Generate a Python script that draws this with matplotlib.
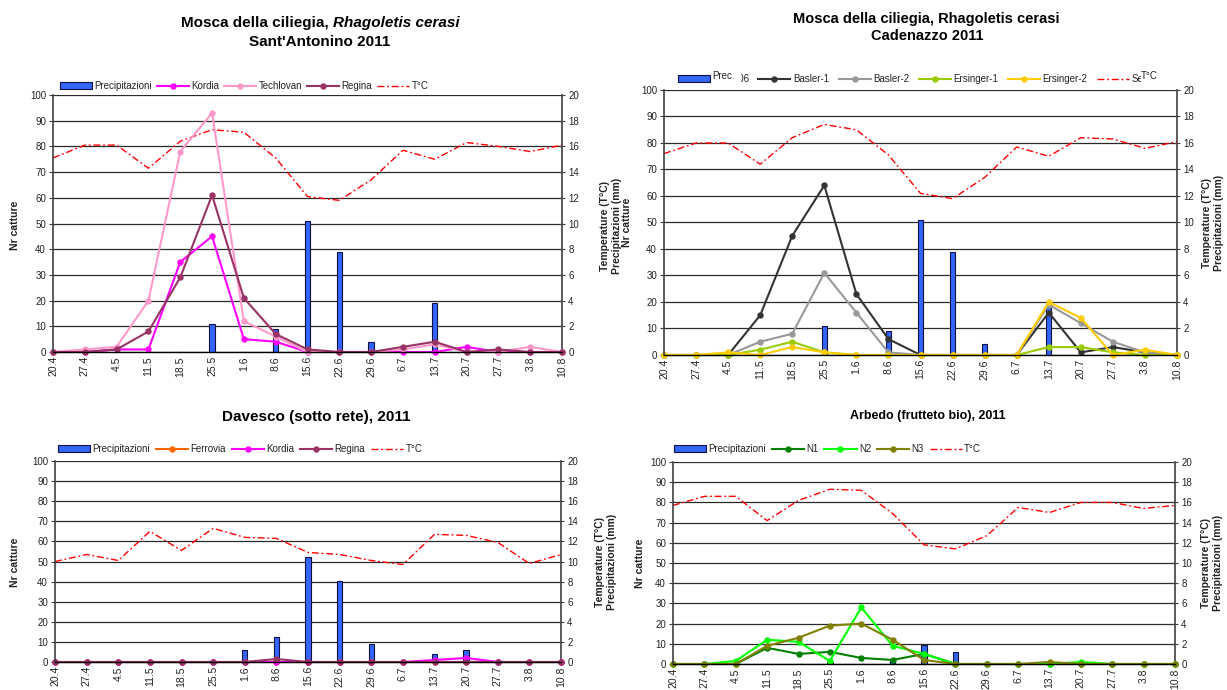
import matplotlib
matplotlib.use("Agg")
import matplotlib.pyplot as plt
from matplotlib.patches import Rectangle

plt.rcParams['font.family'] = ['Liberation Sans', 'DejaVu Sans']

W, H = 1227, 690
fig = plt.figure(figsize=(W / 100, H / 100), dpi=100)

# ---------------------------------------------------------------- data
dates = ["20.4", "27.4", "4.5", "11.5", "18.5", "25.5", "1.6", "8.6", "15.6",
         "22.6", "29.6", "6.7", "13.7", "20.7", "27.7", "3.8", "10.8"]

# Sant'Antonino
prec_sa = [0, 0, 0, 0, 0, 2.2, 0, 1.8, 10.2, 7.8, 0.8, 0, 3.8, 0, 0, 0, 0]
temp_sa = [15.1, 16.1, 16.1, 14.3, 16.4, 17.3, 17.1, 15.1, 12.1, 11.8, 13.4,
           15.7, 15.0, 16.3, 16.0, 15.6, 16.1]
kordia_sa = [0, 0, 1, 1, 35, 45, 5, 4, 0, 0, 0, 0, 0, 2, 0, 0, 0]
techlovan_sa = [0, 1, 2, 20, 78, 93, 12, 6, 0, 0, 0, 1, 3, 0, 0, 2, 0]
regina_sa = [0, 0, 1, 8, 29, 61, 21, 7, 1, 0, 0, 2, 4, 0, 1, 0, 0]

# Cadenazzo
prec_ca = [0, 0, 0, 0, 0, 2.2, 0, 1.8, 10.2, 7.8, 0.8, 0, 3.7, 0, 0, 0, 0]
temp_ca = [15.2, 16.0, 16.0, 14.4, 16.4, 17.4, 17.0, 15.1, 12.2, 11.8, 13.4,
           15.7, 15.0, 16.4, 16.3, 15.6, 16.1]
basler1_ca = [0, 0, 0, 15, 45, 64, 23, 6, 0, 0, 0, 0, 16, 1, 3, 1, 0]
basler2_ca = [0, 0, 0, 5, 8, 31, 16, 1, 0, 0, 0, 0, 19, 12, 5, 1, 0]
ersinger1_ca = [0, 0, 0, 2, 5, 1, 0, 0, 0, 0, 0, 0, 3, 3, 1, 0, 0]
ersinger2_ca = [0, 0, 1, 0, 3, 1, 0, 0, 0, 0, 0, 0, 20, 14, 0, 2, 0]

# Davesco
prec_dv = [0, 0, 0, 0, 0, 0, 1.16, 2.5, 10.4, 8.1, 1.75, 0, 0.8, 1.2, 0, 0, 0]
temp_dv = [10.0, 10.7, 10.1, 13.0, 11.1, 13.3, 12.4, 12.3, 10.9, 10.7, 10.1,
           9.7, 12.7, 12.6, 11.9, 9.8, 10.7]
ferrovia_dv = [0] * 17
kordia_dv = [0, 0, 0, 0, 0, 0, 0, 0, 0, 0, 0, 0, 1, 2, 0, 0, 0]
regina_dv = [0, 0, 0, 0, 0, 0, 0, 1.5, 0, 0, 0, 0, 0, 0, 0, 0, 0]

# Arbedo
prec_ar = [0, 0, 0, 0, 0, 0.2, 0, 0.4, 1.9, 1.2, 0, 0, 0, 0, 0, 0, 0]
temp_ar = [15.7, 16.6, 16.6, 14.2, 16.2, 17.3, 17.2, 14.9, 11.8, 11.4, 12.7,
           15.5, 15.0, 16.0, 16.0, 15.4, 15.7]
n1_ar = [0, 0, 0, 8, 5, 6, 3, 2, 5, 0, 0, 0, 0, 0, 0, 0, 0]
n2_ar = [0, 0, 1.5, 12, 11, 1.5, 28, 9, 5, 0, 0, 0, 0, 1, 0, 0, 0]
n3_ar = [0, 0, 0, 9, 13, 19, 20, 12, 2, 0, 0, 0, 1, 0, 0, 0, 0]

# ---------------------------------------------------------------- style
BAR_FC = "#3366FF"
BAR_EC = "#101040"
TEMP_C = "#FF0000"
AX_C = "#404040"
TXT_C = "#222222"
FS_TICK = 7
FS_LEG = 7


def fx(px):
    return px / W


def fy(py):
    return 1 - py / H


def panel(box, prec, temp, series, prec_label, temp_label, leg_xy, colsp):
    x0, y0, x1, y1 = box
    ax = fig.add_axes([fx(x0), fy(y1), (x1 - x0) / W, (y1 - y0) / H])
    ax2 = ax.twinx()
    ax.set_zorder(3)
    ax2.set_zorder(2)
    ax.patch.set_visible(False)

    xs = list(range(len(dates)))
    bars = ax2.bar(xs, prec, width=0.17, color=BAR_FC, edgecolor=BAR_EC,
                   linewidth=0.8, zorder=2)
    tline, = ax2.plot(xs, temp, color=TEMP_C, lw=1.0, dashes=(5, 2, 1.3, 2),
                      zorder=3, clip_on=False)
    handles = [bars]
    labels = [prec_label]
    for name, vals, col in series:
        h, = ax.plot(xs, vals, color=col, lw=1.5, marker='o', ms=3.6,
                     clip_on=False)
        handles.append(h)
        labels.append(name)
    handles.append(tline)
    labels.append(temp_label)

    ax.set_xlim(0, len(dates) - 1)
    ax.set_ylim(0, 100)
    ax2.set_ylim(0, 20)
    ax.set_yticks(range(0, 101, 10))
    ax2.set_yticks(range(0, 21, 2))
    ax2.yaxis.grid(True, color="#2a2a2a", lw=0.9)
    ax2.set_axisbelow(True)

    ax.set_xticks(xs)
    ax.set_xticklabels(dates, rotation=90, fontsize=7.5, color=TXT_C)
    ax.tick_params(axis='x', length=0, pad=3)
    ax.tick_params(axis='y', direction='out', length=3, width=0.8,
                   color=AX_C, labelsize=FS_TICK, labelcolor=TXT_C, pad=2)
    ax2.tick_params(axis='y', direction='inout', length=5, width=0.8,
                    color=AX_C, labelsize=FS_TICK, labelcolor=TXT_C, pad=2)

    for s in ("top", "right"):
        ax.spines[s].set_visible(False)
    ax.spines["left"].set_color(AX_C)
    ax.spines["left"].set_linewidth(1.2)
    ax.spines["bottom"].set_color("black")
    ax.spines["bottom"].set_linewidth(1.0)
    for s in ("top", "left", "bottom"):
        ax2.spines[s].set_visible(False)
    ax2.spines["right"].set_color(AX_C)
    ax2.spines["right"].set_linewidth(1.2)

    leg = fig.legend(handles, labels, loc='center left',
                     bbox_to_anchor=(fx(leg_xy[0]), fy(leg_xy[1])),
                     ncol=len(handles), frameon=False, fontsize=FS_LEG,
                     handlelength=3.3, handletextpad=0.25,
                     columnspacing=colsp, borderpad=0, borderaxespad=0)
    for t in leg.get_texts():
        t.set_color(TXT_C)
    return ax, ax2, leg


def vlabel(x, y, s):
    fig.text(fx(x), fy(y), s, rotation=90, ha='center', va='center',
             fontsize=7.5, fontweight='bold', color=TXT_C,
             multialignment='center', linespacing=1.15)


RIGHT_LABEL = "Temperature (T°C)\nPrecipitazioni (mm)"

# ---------------------------------------------------------------- panels
panel((53, 95, 562, 352), prec_sa, temp_sa,
      [("Kordia", kordia_sa, "#FF00FF"),
       ("Techlovan", techlovan_sa, "#FF99CC"),
       ("Regina", regina_sa, "#993366")],
      "Precipitazioni", "T°C", (60, 86), 0.5)

_, _, leg_ca = panel((664, 90, 1177, 355), prec_ca, temp_ca,
                     [("Basler-1", basler1_ca, "#333333"),
                      ("Basler-2", basler2_ca, "#999999"),
                      ("Ersinger-1", ersinger1_ca, "#99CC00"),
                      ("Ersinger-2", ersinger2_ca, "#FFCC00")],
                     "Prec. 06", "Serie6", (678, 79), 1.0)

panel((55, 461, 561, 662), prec_dv, temp_dv,
      [("Ferrovia", ferrovia_dv, "#FF6600"),
       ("Kordia", kordia_dv, "#FF00FF"),
       ("Regina", regina_dv, "#993366")],
      "Precipitazioni", "T°C", (58, 449), 0.6)

panel((673, 462, 1175, 664), prec_ar, temp_ar,
      [("N1", n1_ar, "#008000"),
       ("N2", n2_ar, "#00FF00"),
       ("N3", n3_ar, "#808000")],
      "Precipitazioni", "T°C", (674, 449), 0.6)

# ---------------------------------------------------------------- axis titles
vlabel(15, 225, "Nr catture")
vlabel(611, 226, RIGHT_LABEL)
vlabel(627, 222, "Nr catture")
vlabel(1213, 223, RIGHT_LABEL)
vlabel(15, 562, "Nr catture")
vlabel(606, 562, RIGHT_LABEL)
vlabel(640, 563, "Nr catture")
vlabel(1212, 563, RIGHT_LABEL)

# ---------------------------------------------------------------- chart titles
fig.canvas.draw()
rend = fig.canvas.get_renderer()


def text_w(s, **kw):
    t = fig.text(0, 0, s, **kw)
    w = t.get_window_extent(rend).width
    t.remove()
    return w


# first title: species name in italics
t_kw = dict(fontsize=11, fontweight='bold')
part1 = "Mosca della ciliegia,"
part2 = "Rhagoletis cerasi"
w1 = text_w(part1, **t_kw)
wsp = text_w("M M", **t_kw) - text_w("MM", **t_kw)
w2 = text_w(part2, fontstyle='italic', **t_kw)
xs0 = 320 - (w1 + wsp + w2) / 2
fig.text(fx(xs0), fy(26.5), part1, ha='left', va='baseline', color='black', **t_kw)
fig.text(fx(xs0 + w1 + wsp), fy(26.5), part2, ha='left', va='baseline',
         fontstyle='italic', color='black', **t_kw)
fig.text(fx(320), fy(46.5), "Sant'Antonino 2011", ha='center', va='baseline',
         color='black', **t_kw)

fig.text(fx(926), fy(22.5), "Mosca della ciliegia, Rhagoletis cerasi",
         ha='center', va='baseline', fontsize=10.5, fontweight='bold')
fig.text(fx(927), fy(40.2), "Cadenazzo 2011", ha='center', va='baseline',
         fontsize=10.5, fontweight='bold')
fig.text(fx(316), fy(420.5), "Davesco (sotto rete), 2011", ha='center',
         va='baseline', fontsize=11, fontweight='bold')
fig.text(fx(928), fy(418.5), "Arbedo (frutteto bio), 2011", ha='center',
         va='baseline', fontsize=9, fontweight='bold')

# ---------------------------------------------------------------- legend text boxes
leg_texts = leg_ca.get_texts()
lw_kw = dict(fontsize=FS_LEG)

bb = leg_texts[0].get_window_extent(rend)
cut = bb.x0 + text_w("Prec. 0", **lw_kw) - 0.45 * text_w("0", **lw_kw)
fig.add_artist(Rectangle((bb.x0 / W, bb.y0 / H), (cut - bb.x0) / W,
                         bb.height / H, facecolor='white', edgecolor='none',
                         zorder=8))
fig.text(bb.x0 / W, (bb.y0 + 3) / H, "Prec.", ha='left', va='bottom',
         color=TXT_C, zorder=9, **lw_kw)

bb = leg_texts[-1].get_window_extent(rend)
cut = bb.x0 + text_w("Se", **lw_kw) - 0.55 * text_w("e", **lw_kw)
fig.add_artist(Rectangle((cut / W, bb.y0 / H), (bb.x1 + 1 - cut) / W,
                         bb.height / H, facecolor='white', edgecolor='none',
                         zorder=8))
fig.text((cut + 0.5) / W, (bb.y0 + 3) / H, "T°C", ha='left', va='bottom',
         color=TXT_C, zorder=9, **lw_kw)

fig.savefig("out.png", dpi=100, facecolor='white')
